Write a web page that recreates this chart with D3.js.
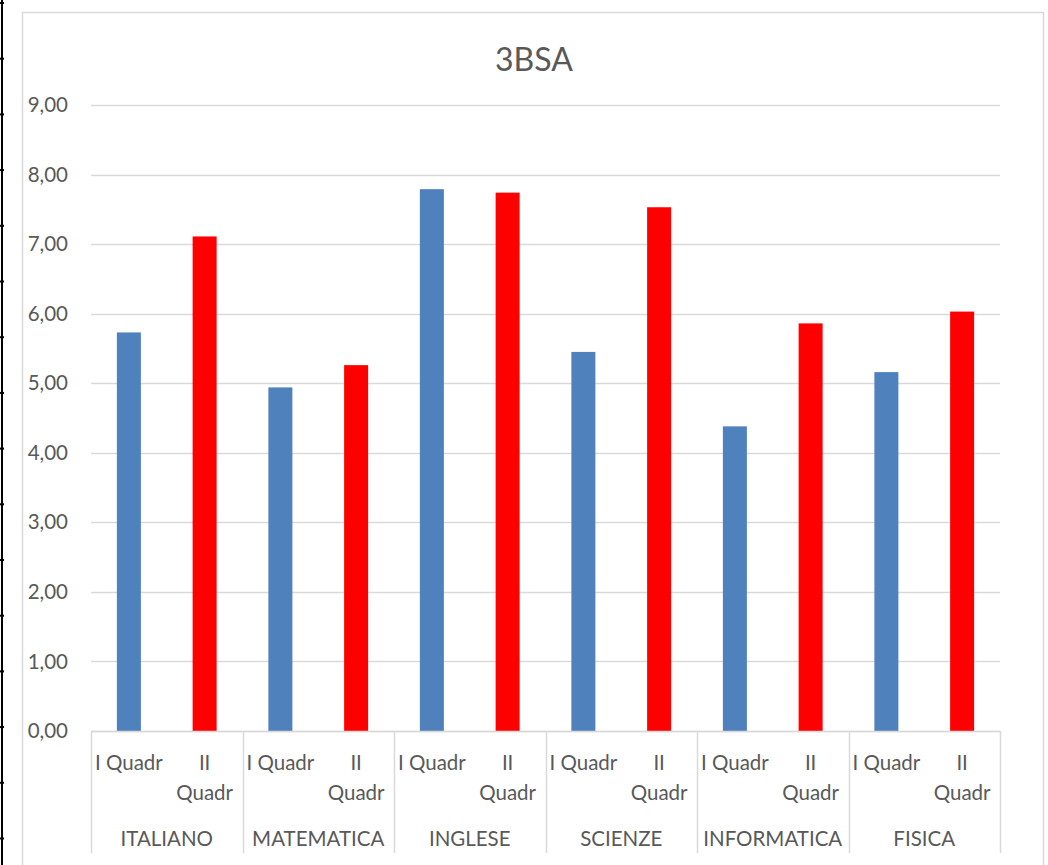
<!DOCTYPE html>
<html>
<head>
<meta charset="utf-8">
<script src="https://cdn.jsdelivr.net/npm/d3@7"></script>
<style>
  html, body { margin: 0; padding: 0; background: #fff; }
  svg { display: block; }
  text { font-family: Lato, "Open Sans", sans-serif; fill: #595959; }
</style>
</head>
<body>
<svg id="chart" width="1048" height="865"></svg>
<script>
const title = "3BSA";
const categories = ["ITALIANO", "MATEMATICA", "INGLESE", "SCIENZE", "INFORMATICA", "FISICA"];
const series = ["I Quadr", "II Quadr"];
const seriesLabelLines = [["I Quadr"], ["II", "Quadr"]];
const valuesI = [5.73, 4.94, 7.79, 5.45, 4.38, 5.16];
const valuesII = [7.11, 5.26, 7.74, 7.53, 5.86, 6.03];
const yTicks = [0, 1, 2, 3, 4, 5, 6, 7, 8, 9];
const colors = ["#4f81bd", "#ff0000"];

const svg = d3.select("#chart");
const W = 1048, H = 865;
const plot = { left: 91, right: 1000, top: 105, bottom: 731 };
const fs = "20.5px";

// spreadsheet artifact at left edge
svg.append("line").attr("x1", 2).attr("x2", 2).attr("y1", 0).attr("y2", H)
  .attr("stroke", "#000").attr("stroke-width", 2);
const rowY = d3.range(0, 16).map(i => 3 + i * 55.7);
svg.selectAll("line.row").data(rowY).join("line").attr("class", "row")
  .attr("x1", 0).attr("x2", 4).attr("y1", d => d).attr("y2", d => d)
  .attr("stroke", "#000").attr("stroke-width", 2);

// chart frame
svg.append("rect").attr("x", 22.5).attr("y", 12.5).attr("width", 1021).attr("height", 900)
  .attr("fill", "none").attr("stroke", "#d9d9d9").attr("stroke-width", 1.5);

const y = d3.scaleLinear().domain([0, 9]).range([plot.bottom, plot.top]);
const x0 = d3.scaleBand().domain(categories).range([plot.left, plot.right]).padding(0);
const x1 = d3.scaleBand().domain(series).range([0, x0.bandwidth()]).padding(0);
const barW = 24;

// gridlines
svg.append("g").selectAll("line").data(yTicks).join("line")
  .attr("x1", plot.left).attr("x2", plot.right)
  .attr("y1", d => Math.round(y(d)) + 0.5).attr("y2", d => Math.round(y(d)) + 0.5)
  .attr("stroke", "#d9d9d9").attr("stroke-width", 1.5);

// y axis labels
const yAxis = d3.axisLeft(y).tickValues(yTicks).tickSize(0).tickPadding(0)
  .tickFormat(d => d3.format(".2f")(d).replace(".", ","));
const gy = svg.append("g").attr("transform", `translate(68,0)`).call(yAxis);
gy.select(".domain").remove();
gy.selectAll("text").style("font-size", fs).attr("fill", "#595959")
  .style("font-family", "Lato, 'Open Sans', sans-serif");

// bars
const data = [];
categories.forEach((c, i) => {
  data.push({ cat: c, s: series[0], v: valuesI[i], k: 0 });
  data.push({ cat: c, s: series[1], v: valuesII[i], k: 1 });
});
svg.append("g").selectAll("rect").data(data).join("rect")
  .attr("x", d => x0(d.cat) + x1(d.s) + x1.bandwidth() / 2 - barW / 2)
  .attr("width", barW)
  .attr("y", d => y(d.v))
  .attr("height", d => y(0) - y(d.v))
  .attr("fill", d => colors[d.k]);

// x axis line (category level)
svg.append("line").attr("x1", plot.left).attr("x2", plot.right)
  .attr("y1", plot.bottom + 0.5).attr("y2", plot.bottom + 0.5)
  .attr("stroke", "#d9d9d9").attr("stroke-width", 1.5);

// category separators
const bounds = categories.map(c => x0(c)).concat([plot.right]);
svg.append("g").selectAll("line").data(bounds).join("line")
  .attr("x1", d => Math.round(d) + 0.5).attr("x2", d => Math.round(d) + 0.5)
  .attr("y1", plot.bottom).attr("y2", 853)
  .attr("stroke", "#d9d9d9").attr("stroke-width", 1.5);

// series labels
const sub = svg.append("g");
categories.forEach(c => {
  series.forEach((s, j) => {
    const cx = x0(c) + x1(s) + x1.bandwidth() / 2;
    const lines = seriesLabelLines[j];
    lines.forEach((ln, li) => {
      sub.append("text").attr("x", cx).attr("y", 762 + li * 30)
        .attr("text-anchor", "middle").attr("dominant-baseline", "central")
        .style("font-size", fs).text(ln);
    });
  });
});

// category labels
svg.append("g").selectAll("text").data(categories).join("text")
  .attr("x", d => x0(d) + x0.bandwidth() / 2).attr("y", 838)
  .attr("text-anchor", "middle").attr("dominant-baseline", "central")
  .style("font-size", fs).text(d => d);

// title
svg.append("text").attr("x", 534).attr("y", 58)
  .attr("text-anchor", "middle").attr("dominant-baseline", "central")
  .style("font-size", "32px").text(title);
</script>
</body>
</html>
